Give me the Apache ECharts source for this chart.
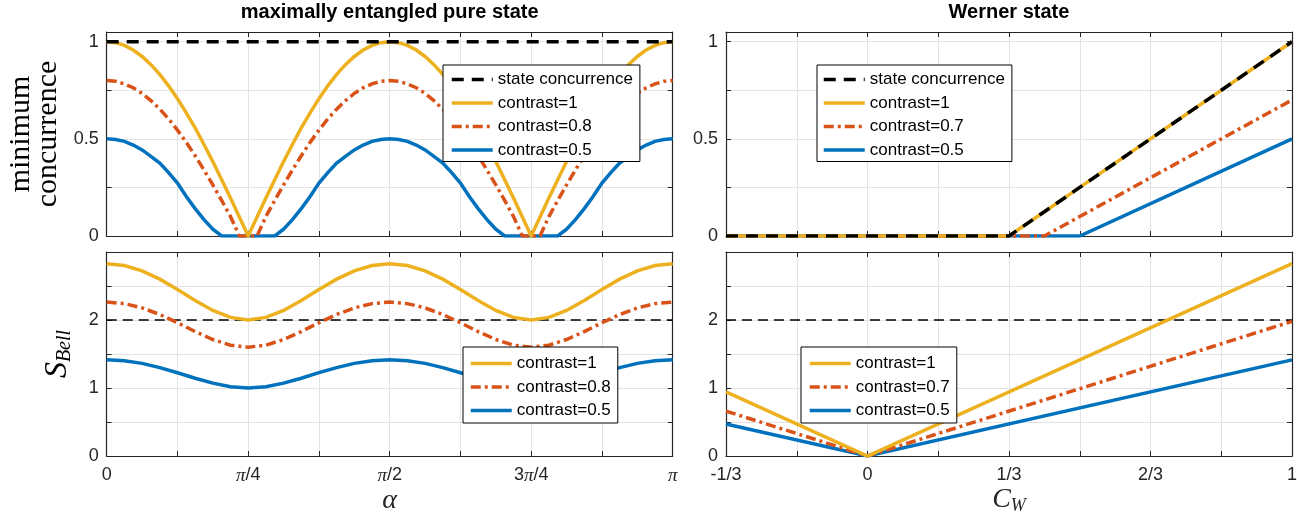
<!DOCTYPE html>
<html>
<head>
<meta charset="utf-8">
<script src="https://cdn.jsdelivr.net/npm/echarts@6/dist/echarts.min.js"></script>
<style>
html, body { margin: 0; padding: 0; background: #fff; }
#chart { width: 1297px; height: 512px; }
</style>
</head>
<body>
<div id="chart"></div>
<script>
// ---- data ----
// maximally entangled pure state, alpha in units of pi
const alphaTop = [0, 0.015625, 0.03125, 0.046875, 0.0625, 0.078125, 0.09375, 0.109375, 0.125, 0.140625, 0.15625, 0.171875, 0.1875, 0.203125, 0.21875, 0.234375, 0.25,
  0.265625, 0.28125, 0.296875, 0.3125, 0.328125, 0.34375, 0.359375, 0.375, 0.390625, 0.40625, 0.421875, 0.4375, 0.453125, 0.46875, 0.484375, 0.5,
  0.515625, 0.53125, 0.546875, 0.5625, 0.578125, 0.59375, 0.609375, 0.625, 0.640625, 0.65625, 0.671875, 0.6875, 0.703125, 0.71875, 0.734375, 0.75,
  0.765625, 0.78125, 0.796875, 0.8125, 0.828125, 0.84375, 0.859375, 0.875, 0.890625, 0.90625, 0.921875, 0.9375, 0.953125, 0.96875, 0.984375, 1]
const concC1 = [1, 0.995, 0.981, 0.957, 0.924, 0.882, 0.832, 0.773, 0.707, 0.634, 0.556, 0.471, 0.383, 0.290, 0.195, 0.098, 0,
  0.098, 0.195, 0.290, 0.383, 0.471, 0.556, 0.634, 0.707, 0.773, 0.832, 0.882, 0.924, 0.957, 0.981, 0.995, 1,
  0.995, 0.981, 0.957, 0.924, 0.882, 0.832, 0.773, 0.707, 0.634, 0.556, 0.471, 0.383, 0.290, 0.195, 0.098, 0,
  0.098, 0.195, 0.290, 0.383, 0.471, 0.556, 0.634, 0.707, 0.773, 0.832, 0.882, 0.924, 0.957, 0.981, 0.995, 1]
const concC08 = [0.800, 0.796, 0.783, 0.763, 0.734, 0.697, 0.653, 0.603, 0.545, 0.482, 0.413, 0.340, 0.263, 0.183, 0.100, 0, 0,
  0, 0.100, 0.183, 0.263, 0.340, 0.413, 0.482, 0.545, 0.603, 0.653, 0.697, 0.734, 0.763, 0.783, 0.796, 0.800,
  0.796, 0.783, 0.763, 0.734, 0.697, 0.653, 0.603, 0.545, 0.482, 0.413, 0.340, 0.263, 0.183, 0.100, 0, 0,
  0, 0.100, 0.183, 0.263, 0.340, 0.413, 0.482, 0.545, 0.603, 0.653, 0.697, 0.734, 0.763, 0.783, 0.796, 0.800]
const concC05 = [0.500, 0.497, 0.487, 0.468, 0.443, 0.410, 0.375, 0.326, 0.272, 0.203, 0.141, 0.084, 0.035, 0, 0, 0, 0,
  0, 0, 0, 0.035, 0.084, 0.141, 0.203, 0.272, 0.326, 0.375, 0.410, 0.443, 0.468, 0.487, 0.497, 0.500,
  0.497, 0.487, 0.468, 0.443, 0.410, 0.375, 0.326, 0.272, 0.203, 0.141, 0.084, 0.035, 0, 0, 0, 0,
  0, 0, 0, 0.035, 0.084, 0.141, 0.203, 0.272, 0.326, 0.375, 0.410, 0.443, 0.468, 0.487, 0.497, 0.500]
const stateAlpha = [0, 1]
const stateConc = [1, 1]

const alphaBottom = [0, 0.03125, 0.0625, 0.09375, 0.125, 0.15625, 0.1875, 0.21875, 0.25, 0.28125, 0.3125, 0.34375, 0.375, 0.40625, 0.4375, 0.46875, 0.5,
  0.53125, 0.5625, 0.59375, 0.625, 0.65625, 0.6875, 0.71875, 0.75, 0.78125, 0.8125, 0.84375, 0.875, 0.90625, 0.9375, 0.96875, 1]
const bellC1 = [2.828, 2.801, 2.723, 2.601, 2.449, 2.288, 2.141, 2.038, 2.000, 2.038, 2.141, 2.288, 2.449, 2.601, 2.723, 2.801, 2.828,
  2.801, 2.723, 2.601, 2.449, 2.288, 2.141, 2.038, 2.000, 2.038, 2.141, 2.288, 2.449, 2.601, 2.723, 2.801, 2.828]
const bellC08 = [2.263, 2.241, 2.178, 2.081, 1.960, 1.830, 1.713, 1.630, 1.600, 1.630, 1.713, 1.830, 1.960, 2.081, 2.178, 2.241, 2.263,
  2.241, 2.178, 2.081, 1.960, 1.830, 1.713, 1.630, 1.600, 1.630, 1.713, 1.830, 1.960, 2.081, 2.178, 2.241, 2.263]
const bellC05 = [1.414, 1.401, 1.362, 1.300, 1.225, 1.144, 1.071, 1.019, 1.000, 1.019, 1.071, 1.144, 1.225, 1.300, 1.362, 1.401, 1.414,
  1.401, 1.362, 1.300, 1.225, 1.144, 1.071, 1.019, 1.000, 1.019, 1.071, 1.144, 1.225, 1.300, 1.362, 1.401, 1.414]
const boundAlpha = [0, 1]
const bellBound = [2, 2]

// Werner state, C_W
const cwTop = [-1 / 3, 0, 1 / 3, 5 / 12, 1 / 2, 1]
const wConcState = [0, 0, 0, 0.125, 0.25, 1]
const wConcC1 = [0, 0, 0, 0.125, 0.25, 1]
const wConcC07 = [0, 0, 0, 0, 0.1, 0.7]
const wConcC05 = [0, 0, 0, 0, 0, 0.5]

const cwBottom = [-1 / 3, 0, 1]
const wBellC1 = [0.943, 0, 2.828]
const wBellC07 = [0.660, 0, 1.980]
const wBellC05 = [0.471, 0, 1.414]
const cwBound = [-1 / 3, 1]

// tick labels
const alphaTicks = { 0: '0', 0.25: '{p|π}/4', 0.5: '{p|π}/2', 0.75: '3{p|π}/4', 1: '{p|π}' }
const cwTicks = { '-2': '-1/3', 0: '0', 2: '1/3', 4: '2/3', 6: '1' } // in sixths
const concTicks = [0, 0.5, 1]
const bellTicks = [0, 1, 2]

// ---- style ----
const AXIS = '#262626'
const GRIDLINE = '#e3e3e3'
const BLUE = '#0072BD'
const RED = '#D95319'
const YELLOW = '#EDB120'
const SANS = 'Liberation Sans, Arial, sans-serif'
const SERIF = 'Liberation Serif, Times New Roman, serif'

const panels = [
  { left: 106.7, top: 32 },
  { left: 106.7, top: 252 },
  { left: 726, top: 32 },
  { left: 726, top: 252 }
]

const myChart = echarts.init(document.getElementById('chart'))

function pairs (xs, ys, k) {
  return xs.map((x, i) => [x * (k || 1), ys[i]])
}

function xAxisPair (g, min, max, interval, label, name, nameGap) {
  const base = {
    gridIndex: g,
    type: 'value',
    min: min,
    max: max,
    interval: interval,
    nameMoveOverlap: false,
    axisLine: { show: true, onZero: false, lineStyle: { color: AXIS, width: 1.2 } },
    axisTick: { show: true, inside: true, length: 5, lineStyle: { color: AXIS, width: 1 } }
  }
  const bottom = Object.assign({}, base, {
    position: 'bottom',
    splitLine: { show: true, lineStyle: { color: GRIDLINE, width: 1 } },
    axisLabel: label
      ? {
          show: true,
          margin: 10,
          fontFamily: SANS,
          fontSize: 18,
          color: AXIS,
          formatter: label,
          rich: { p: { fontFamily: SERIF, fontStyle: 'italic', fontSize: 19, color: AXIS } }
        }
      : { show: false }
  })
  if (name) {
    Object.assign(bottom, name, { nameLocation: 'middle', nameGap: nameGap })
  }
  const top = Object.assign({}, base, {
    position: 'top',
    splitLine: { show: false },
    axisLabel: { show: false }
  })
  return [bottom, top]
}

function yAxisPair (g, max, interval, shown, name, nameGap) {
  const base = {
    gridIndex: g,
    type: 'value',
    min: 0,
    max: max,
    interval: interval,
    nameMoveOverlap: false,
    axisLine: { show: true, onZero: false, lineStyle: { color: AXIS, width: 1.2 } },
    axisTick: { show: true, inside: true, length: 5, lineStyle: { color: AXIS, width: 1 } }
  }
  const left = Object.assign({}, base, {
    position: 'left',
    splitLine: { show: true, lineStyle: { color: GRIDLINE, width: 1 } },
    axisLabel: {
      show: true,
      margin: 8,
      fontFamily: SANS,
      fontSize: 18,
      color: AXIS,
      formatter: function (v) {
        return shown.some(t => Math.abs(t - v) < 1e-9) ? String(v) : ''
      }
    }
  })
  if (name) {
    Object.assign(left, name, { nameLocation: 'middle', nameGap: nameGap, nameRotate: 90 })
  }
  const right = Object.assign({}, base, {
    position: 'right',
    splitLine: { show: false },
    axisLabel: { show: false }
  })
  return [left, right]
}

const alphaLabel = function (v) {
  const key = Math.round(v * 1000) / 1000
  return alphaTicks[key] !== undefined ? alphaTicks[key] : ''
}
const cwLabel = function (v) {
  const key = Math.round(v)
  return Math.abs(v - key) < 1e-6 && cwTicks[key] !== undefined ? cwTicks[key] : ''
}

const xAxes = [].concat(
  xAxisPair(0, 0, 1, 0.125, null),
  xAxisPair(1, 0, 1, 0.125, alphaLabel, {
    name: 'α',
    nameTextStyle: { fontFamily: SERIF, fontStyle: 'italic', fontSize: 28, color: AXIS }
  }, 31),
  xAxisPair(2, -2, 6, 1, null),
  xAxisPair(3, -2, 6, 1, cwLabel, {
    name: '{c|C}{w|W}',
    nameTextStyle: {
      color: AXIS,
      rich: {
        c: { fontFamily: SERIF, fontStyle: 'italic', fontSize: 28, color: AXIS },
        w: { fontFamily: SERIF, fontStyle: 'italic', fontSize: 18, color: AXIS, padding: [12, 0, 0, 0] }
      }
    }
  }, 29)
)

const yAxes = [].concat(
  yAxisPair(0, 1.05, 0.25, concTicks, {
    name: 'minimum\nconcurrence',
    nameTextStyle: { fontFamily: SERIF, fontSize: 30, lineHeight: 27, color: '#000' }
  }, 45),
  yAxisPair(1, 3, 0.5, bellTicks, {
    name: '{s|S}{b|Bell}',
    nameTextStyle: {
      color: '#000',
      rich: {
        s: { fontFamily: SERIF, fontStyle: 'italic', fontSize: 32, color: '#000' },
        b: { fontFamily: SERIF, fontStyle: 'italic', fontSize: 20, color: '#000', padding: [14, 0, 0, 0] }
      }
    }
  }, 32),
  yAxisPair(2, 1.05, 0.25, concTicks),
  yAxisPair(3, 3, 0.5, bellTicks)
)

function line (name, data, panel, color, width, dash) {
  return {
    name: name,
    type: 'line',
    xAxisIndex: panel * 2,
    yAxisIndex: panel * 2,
    data: data,
    symbol: 'none',
    silent: true,
    lineStyle: { color: color, width: width, type: dash || 'solid', cap: 'butt', join: 'miter' },
    itemStyle: { color: color }
  }
}

const DASH = [12, 8]
const DASHDOT = [10, 4, 3, 4]
const THIN_DASH = [10, 6]
const W = 3.5

const series = [
  // left top
  line('contrast=0.5', pairs(alphaTop, concC05), 0, BLUE, W),
  line('contrast=0.8', pairs(alphaTop, concC08), 0, RED, W, DASHDOT),
  line('contrast=1', pairs(alphaTop, concC1), 0, YELLOW, W),
  line('state concurrence', pairs(stateAlpha, stateConc), 0, '#000', W, DASH),
  // left bottom
  line('local bound', pairs(boundAlpha, bellBound), 1, '#000', 1.5, THIN_DASH),
  line('contrast=0.5', pairs(alphaBottom, bellC05), 1, BLUE, W),
  line('contrast=0.8', pairs(alphaBottom, bellC08), 1, RED, W, DASHDOT),
  line('contrast=1', pairs(alphaBottom, bellC1), 1, YELLOW, W),
  // right top
  line('contrast=0.5', pairs(cwTop, wConcC05, 6), 2, BLUE, W),
  line('contrast=0.7', pairs(cwTop, wConcC07, 6), 2, RED, W, DASHDOT),
  line('contrast=1', pairs(cwTop, wConcC1, 6), 2, YELLOW, W),
  line('state concurrence', pairs(cwTop, wConcState, 6), 2, '#000', W, DASH),
  // right bottom
  line('local bound', pairs(cwBound, bellBound, 6), 3, '#000', 1.5, THIN_DASH),
  line('contrast=0.5', pairs(cwBottom, wBellC05, 6), 3, BLUE, W),
  line('contrast=0.7', pairs(cwBottom, wBellC07, 6), 3, RED, W, DASHDOT),
  line('contrast=1', pairs(cwBottom, wBellC1, 6), 3, YELLOW, W)
]

function legend (names, left, top, padding) {
  return {
    data: names,
    left: left,
    top: top,
    orient: 'vertical',
    itemWidth: 41,
    itemHeight: 14,
    itemGap: 6.5,
    padding: padding,
    backgroundColor: '#fff',
    borderColor: '#000',
    borderWidth: 1,
    borderRadius: 0,
    selectedMode: false,
    itemStyle: { opacity: 0 },
    lineStyle: { width: W },
    textStyle: { fontFamily: SANS, fontSize: 17, color: '#000' }
  }
}

const option = {
  animation: false,
  backgroundColor: '#fff',
  grid: panels.map(p => ({
    left: p.left,
    top: p.top,
    width: 566,
    height: 204,
    outerBoundsMode: 'none',
    containLabel: false
  })),
  xAxis: xAxes,
  yAxis: yAxes,
  legend: [
    legend(['state concurrence', 'contrast=1', 'contrast=0.8', 'contrast=0.5'], 443, 65, [6, 7, 3, 7]),
    legend(['contrast=1', 'contrast=0.8', 'contrast=0.5'], 463, 347, [8, 7, 4, 6]),
    legend(['state concurrence', 'contrast=1', 'contrast=0.7', 'contrast=0.5'], 817, 65, [6, 7, 3, 5]),
    legend(['contrast=1', 'contrast=0.7', 'contrast=0.5'], 801, 347, [8, 7, 4, 7])
  ],
  graphic: [
    {
      type: 'text',
      x: 389.7,
      y: 12,
      style: {
        text: 'maximally entangled pure state',
        textAlign: 'center',
        textVerticalAlign: 'middle',
        font: 'bold 20px ' + SANS,
        fill: '#000'
      }
    },
    {
      type: 'text',
      x: 1009,
      y: 12,
      style: {
        text: 'Werner state',
        textAlign: 'center',
        textVerticalAlign: 'middle',
        font: 'bold 20px ' + SANS,
        fill: '#000'
      }
    }
  ],
  series: series
}

myChart.setOption(option)
window.addEventListener('resize', () => myChart.resize())
</script>
</body>
</html>
